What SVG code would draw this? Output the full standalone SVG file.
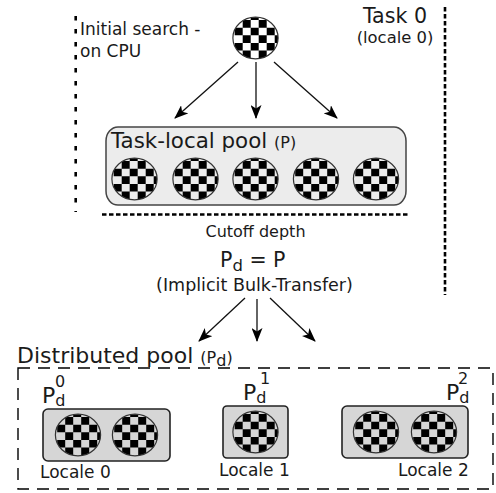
<svg xmlns="http://www.w3.org/2000/svg" width="496" height="493" viewBox="0 0 496 493">
<style>
text{font-family:"DejaVu Sans",sans-serif;fill:#1a1a1a}
.chk{stroke:#333;stroke-width:1.2;fill:none}
.arr{stroke:#111;stroke-width:1.3;fill:none;marker-end:url(#ah)}
.pool{stroke:#444;stroke-width:1.5}
.loc{stroke:#222;stroke-width:1.6;fill:#d6d6d6}
.dot{stroke:#000;fill:none;stroke-width:2.6}
</style>
<defs>
<marker id="ah" viewBox="0 0 14 11" refX="13" refY="5.5" markerWidth="14" markerHeight="11" markerUnits="userSpaceOnUse" orient="auto"><path d="M0 0L14 5.5L0 11L3.5 5.5Z" fill="#000"/></marker>
<clipPath id="cc"><ellipse cx="0" cy="0" rx="22.6" ry="20.8"/></clipPath>
<g id="c">
<path clip-path="url(#cc)" fill="#000" d="M-20.8 -25.5h8v7.6h-8zM-4.8 -25.5h8v7.6h-8zM11.2 -25.5h8v7.6h-8zM-12.8 -17.9h8v7.6h-8zM3.2 -17.9h8v7.6h-8zM19.2 -17.9h8v7.6h-8zM-20.8 -10.3h8v7.6h-8zM-4.8 -10.3h8v7.6h-8zM11.2 -10.3h8v7.6h-8zM-12.8 -2.7h8v7.6h-8zM3.2 -2.7h8v7.6h-8zM19.2 -2.7h8v7.6h-8zM-20.8 4.9h8v7.6h-8zM-4.8 4.9h8v7.6h-8zM11.2 4.9h8v7.6h-8zM-12.8 12.5h8v7.6h-8zM3.2 12.5h8v7.6h-8zM19.2 12.5h8v7.6h-8z"/>
<ellipse class="chk" cx="0" cy="0" rx="22.6" ry="20.8"/>
</g>
</defs>
<g id="connectors">
<path class="arr" d="M238 62L175 118"/>
<path class="arr" stroke-width="1.6" d="M256 62V118"/>
<path class="arr" d="M274 62L337 118"/>
<path class="arr" d="M245 298L199 341"/>
<path class="arr" d="M257 299V341"/>
<path class="arr" d="M270 298L315 341"/>
</g>
<g id="guides">
<path class="dot" stroke-dasharray="4.5 8.5" d="M75.7 16V212"/>
<path class="dot" stroke-dasharray="4.5 2.5" d="M445 7V295"/>
<path class="dot" stroke-width="2.2" stroke-dasharray="4.5 2.5" d="M102 214.5H410"/>
</g>
<g id="top-node"><ellipse cx="255.5" cy="38" rx="22.6" ry="20.8" fill="#fff"/><use href="#c" x="255.5" y="38"/></g>
<g id="initial-label"><text x="80" y="35" font-size="17">Initial search -</text><text x="80" y="57" font-size="17">on CPU</text></g>
<g id="task-label"><text x="395" y="23" font-size="20.6" text-anchor="middle">Task 0</text><text x="395" y="43" font-size="16.4" text-anchor="middle">(locale 0)</text></g>
<g id="task-local-pool">
<rect class="pool" x="106" y="127" width="300" height="78" rx="12" ry="14" fill="#ececec"/>
<text x="111" y="148" font-size="21.4">Task-local pool <tspan font-size="16">(P)</tspan></text>
<use href="#c" x="134.5" y="179"/><use href="#c" x="195.5" y="179"/><use href="#c" x="255.5" y="179"/><use href="#c" x="316" y="179"/><use href="#c" x="376" y="179"/>
</g>
<g id="cutoff"><text x="255.5" y="237" font-size="16" text-anchor="middle">Cutoff depth</text></g>
<g id="transfer"><text x="220" y="267" font-size="20.5">P<tspan font-size="16.5" dy="4">d</tspan><tspan dy="-4"> = P</tspan></text><text x="254.5" y="291" font-size="17.5" text-anchor="middle">(Implicit Bulk-Transfer)</text></g>
<g id="distributed-pool">
<rect x="18" y="368" width="475" height="121" fill="none" stroke="#000" stroke-width="1.4" stroke-dasharray="12 8"/>
<text x="17" y="363" font-size="22">Distributed pool <tspan font-size="16">(P</tspan><tspan font-size="16" dy="3">d</tspan><tspan font-size="16" dy="-3">)</tspan></text>
</g>
<g id="locale-0">
<rect class="loc" x="43" y="409" width="127" height="52" rx="5"/>
<use href="#c" x="78" y="435"/><use href="#c" x="135" y="435"/>
<text x="42" y="403" font-size="22">P<tspan font-size="16" dy="3">d</tspan><tspan font-size="16" x="55" dy="-19">0</tspan></text>
<text x="40" y="478" font-size="17">Locale 0</text>
</g>
<g id="locale-1">
<rect class="loc" x="223" y="406" width="65" height="52" rx="4"/>
<use href="#c" x="255.5" y="432"/>
<text x="243" y="400" font-size="22">P<tspan font-size="16" dy="3">d</tspan><tspan font-size="16" x="260" dy="-19">1</tspan></text>
<text x="219" y="476" font-size="17">Locale 1</text>
</g>
<g id="locale-2">
<rect class="loc" x="342" y="406" width="126" height="52" rx="5"/>
<use href="#c" x="376" y="432"/><use href="#c" x="434" y="432"/>
<text x="446" y="400" font-size="22">P<tspan font-size="16" dy="3">d</tspan><tspan font-size="16" x="458" dy="-19">2</tspan></text>
<text x="398" y="476" font-size="17">Locale 2</text>
</g>
</svg>
